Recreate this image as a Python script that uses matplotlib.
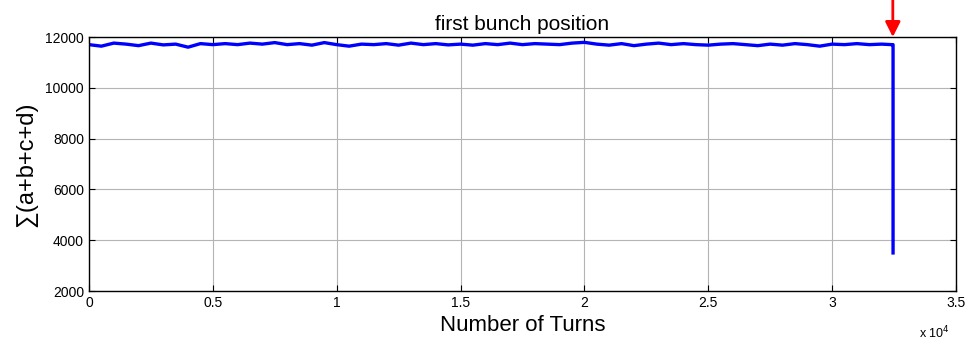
import numpy as np
import matplotlib.pyplot as plt

plt.rcParams['font.family'] = ['Liberation Sans', 'DejaVu Sans']

# turns and summed button signal
turns = [0, 500, 1000, 1500, 2000, 2500, 3000, 3500, 4000, 4500,
         5000, 5500, 6000, 6500, 7000, 7500, 8000, 8500, 9000, 9500,
         10000, 10500, 11000, 11500, 12000, 12500, 13000, 13500, 14000, 14500,
         15000, 15500, 16000, 16500, 17000, 17500, 18000, 18500, 19000, 19500,
         20000, 20500, 21000, 21500, 22000, 22500, 23000, 23500, 24000, 24500,
         25000, 25500, 26000, 26500, 27000, 27500, 28000, 28500, 29000, 29500,
         30000, 30500, 31000, 31500, 32000, 32400, 32460, 32460]
signal = [11700, 11640, 11760, 11720, 11660, 11760, 11690, 11720, 11600, 11740,
          11700, 11740, 11700, 11760, 11720, 11780, 11700, 11740, 11680, 11780,
          11700, 11640, 11720, 11700, 11740, 11680, 11760, 11700, 11740, 11690,
          11720, 11680, 11740, 11700, 11760, 11700, 11740, 11720, 11700, 11760,
          11790, 11720, 11680, 11740, 11660, 11720, 11760, 11700, 11740, 11700,
          11680, 11720, 11740, 11700, 11660, 11720, 11680, 11740, 11700, 11640,
          11720, 11700, 11740, 11700, 11720, 11700, 11700, 3500]

xticks = [0, 5000, 10000, 15000, 20000, 25000, 30000, 35000]
xtick_labels = ['0', '0.5', '1', '1.5', '2', '2.5', '3', '3.5']
yticks = [2000, 4000, 6000, 8000, 10000, 12000]
loss_turn = 32450

fig = plt.figure(figsize=(9.67, 3.44), dpi=100)
ax = fig.add_axes([0.092, 0.154, 0.8966, 0.7384])

ax.plot(turns, signal, color='#0000ff', lw=2.4)

ax.set_xlim(0, 35000)
ax.set_ylim(2000, 12000)
ax.set_xticks(xticks)
ax.set_xticklabels(xtick_labels)
ax.set_yticks(yticks)
ax.grid(True, color='#b4b4b4', lw=0.8)
ax.tick_params(direction='in', length=4, top=True, right=True, labelsize=10)
for s in ax.spines.values():
    s.set_linewidth(1.0)

ax.set_title('first bunch position', fontsize=15, pad=5)
ax.set_xlabel('Number of Turns', fontsize=16, labelpad=4)
ax.set_ylabel('\u2211(a+b+c+d)', fontsize=17, labelpad=6)
ax.text(0.975, -0.165, 'x 10$^4$', transform=ax.transAxes, fontsize=9,
        ha='center', va='center')

# red marker arrow at the beam loss
ax.annotate('', xy=(loss_turn, 12000), xycoords='data',
            xytext=(loss_turn, 1.0), textcoords=('data', 'figure fraction'),
            annotation_clip=False,
            arrowprops=dict(arrowstyle='-|>,head_length=0.9,head_width=0.45',
                            color='#ff0000', lw=2, shrinkA=0, shrinkB=0))

plt.savefig('out.png', dpi=100)
